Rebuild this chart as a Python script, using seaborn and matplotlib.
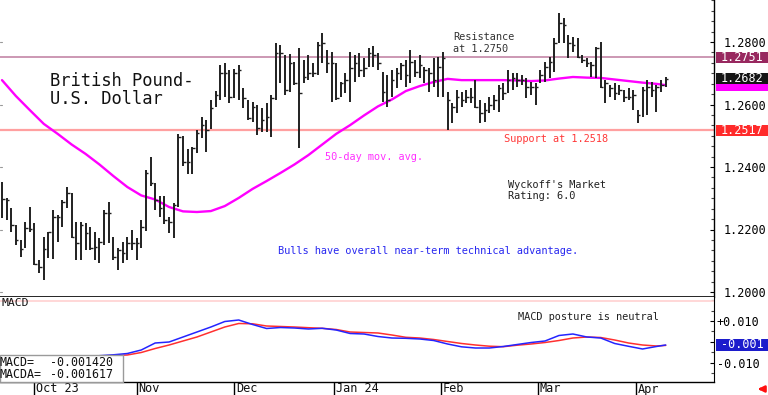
import numpy as np
import pandas as pd
import matplotlib
matplotlib.use("Agg")
import matplotlib.pyplot as plt
import matplotlib.transforms as mtransforms
from matplotlib.patches import Rectangle, FancyArrowPatch
from matplotlib.ticker import FixedLocator, MultipleLocator
import seaborn as sns

# ---------------- data (GBP/USD daily bars, Sep 21 2023 - Apr 9 2024) ----------------
highs = [1.2352, 1.2301, 1.2269, 1.2214, 1.2166, 1.2224, 1.2272, 1.2221, 1.2102, 1.2176,
         1.2192, 1.2262, 1.2246, 1.2294, 1.2336, 1.2317, 1.2224, 1.2224, 1.2221, 1.2208,
         1.2192, 1.2173, 1.2262, 1.2288, 1.2176, 1.2141, 1.2160, 1.2176, 1.2198, 1.2173,
         1.2230, 1.2390, 1.2432, 1.2349, 1.2307, 1.2307, 1.2240, 1.2285, 1.2506, 1.2499,
         1.2458, 1.2464, 1.2518, 1.2560, 1.2550, 1.2614, 1.2643, 1.2726, 1.2733, 1.2710,
         1.2714, 1.2726, 1.2653, 1.2614, 1.2608, 1.2598, 1.2589, 1.2605, 1.2630, 1.2797,
         1.2790, 1.2758, 1.2762, 1.2736, 1.2781, 1.2742, 1.2758, 1.2733, 1.2800, 1.2829,
         1.2774, 1.2768, 1.2733, 1.2672, 1.2701, 1.2768, 1.2758, 1.2765, 1.2749, 1.2781,
         1.2787, 1.2765, 1.2704, 1.2694, 1.2710, 1.2717, 1.2733, 1.2742, 1.2774, 1.2742,
         1.2758, 1.2720, 1.2717, 1.2749, 1.2752, 1.2768, 1.2640, 1.2605, 1.2646, 1.2640,
         1.2646, 1.2653, 1.2678, 1.2614, 1.2605, 1.2624, 1.2630, 1.2662, 1.2669, 1.2710,
         1.2701, 1.2701, 1.2694, 1.2685, 1.2672, 1.2669, 1.2710, 1.2736, 1.2752, 1.2813,
         1.2893, 1.2877, 1.2822, 1.2816, 1.2813, 1.2758, 1.2749, 1.2736, 1.2784, 1.2800,
         1.2678, 1.2662, 1.2669, 1.2662, 1.2646, 1.2653, 1.2646, 1.2582, 1.2656, 1.2678,
         1.2672, 1.2662, 1.2678, 1.2688]
lows = [1.2237, 1.2230, 1.2192, 1.2150, 1.2112, 1.2141, 1.2192, 1.2086, 1.2061, 1.2038,
        1.2109, 1.2106, 1.2160, 1.2208, 1.2269, 1.2173, 1.2102, 1.2102, 1.2134, 1.2134,
        1.2102, 1.2093, 1.2150, 1.2157, 1.2102, 1.2070, 1.2093, 1.2102, 1.2134, 1.2102,
        1.2141, 1.2195, 1.2339, 1.2262, 1.2240, 1.2218, 1.2189, 1.2173, 1.2272, 1.2403,
        1.2378, 1.2378, 1.2445, 1.2493, 1.2448, 1.2522, 1.2592, 1.2614, 1.2624, 1.2605,
        1.2621, 1.2614, 1.2589, 1.2550, 1.2544, 1.2502, 1.2512, 1.2512, 1.2496, 1.2614,
        1.2669, 1.2630, 1.2640, 1.2662, 1.2461, 1.2669, 1.2678, 1.2688, 1.2694, 1.2733,
        1.2701, 1.2608, 1.2614, 1.2624, 1.2637, 1.2608, 1.2672, 1.2688, 1.2688, 1.2720,
        1.2720, 1.2710, 1.2608, 1.2592, 1.2624, 1.2653, 1.2678, 1.2656, 1.2669, 1.2688,
        1.2685, 1.2669, 1.2640, 1.2656, 1.2624, 1.2624, 1.2518, 1.2541, 1.2573, 1.2592,
        1.2605, 1.2605, 1.2589, 1.2541, 1.2544, 1.2573, 1.2582, 1.2576, 1.2614, 1.2637,
        1.2646, 1.2656, 1.2662, 1.2621, 1.2630, 1.2598, 1.2669, 1.2672, 1.2685, 1.2704,
        1.2797, 1.2797, 1.2749, 1.2768, 1.2749, 1.2733, 1.2720, 1.2688, 1.2685, 1.2653,
        1.2605, 1.2624, 1.2614, 1.2630, 1.2608, 1.2614, 1.2582, 1.2541, 1.2560, 1.2566,
        1.2624, 1.2576, 1.2640, 1.2656]
closes = [1.2298, 1.2294, 1.2214, 1.2166, 1.2138, 1.2205, 1.2202, 1.2090, 1.2080, 1.2138,
          1.2192, 1.2240, 1.2240, 1.2288, 1.2317, 1.2176, 1.2157, 1.2214, 1.2189, 1.2141,
          1.2144, 1.2160, 1.2253, 1.2253, 1.2112, 1.2134, 1.2125, 1.2157, 1.2157, 1.2157,
          1.2208, 1.2381, 1.2349, 1.2294, 1.2269, 1.2230, 1.2224, 1.2278, 1.2496, 1.2416,
          1.2416, 1.2461, 1.2509, 1.2534, 1.2518, 1.2589, 1.2630, 1.2701, 1.2701, 1.2624,
          1.2701, 1.2710, 1.2621, 1.2557, 1.2592, 1.2525, 1.2550, 1.2560, 1.2621, 1.2765,
          1.2765, 1.2646, 1.2733, 1.2669, 1.2637, 1.2688, 1.2701, 1.2701, 1.2790, 1.2797,
          1.2733, 1.2733, 1.2621, 1.2669, 1.2678, 1.2717, 1.2733, 1.2710, 1.2717, 1.2765,
          1.2758, 1.2733, 1.2640, 1.2614, 1.2678, 1.2701, 1.2726, 1.2694, 1.2736, 1.2704,
          1.2726, 1.2710, 1.2701, 1.2678, 1.2720, 1.2749, 1.2614, 1.2592, 1.2624, 1.2614,
          1.2624, 1.2624, 1.2592, 1.2573, 1.2582, 1.2598, 1.2614, 1.2653, 1.2637, 1.2678,
          1.2685, 1.2678, 1.2678, 1.2656, 1.2656, 1.2656, 1.2694, 1.2720, 1.2736, 1.2797,
          1.2861, 1.2854, 1.2797, 1.2790, 1.2752, 1.2742, 1.2733, 1.2726, 1.2781, 1.2656,
          1.2669, 1.2653, 1.2637, 1.2646, 1.2624, 1.2624, 1.2630, 1.2566, 1.2646, 1.2656,
          1.2646, 1.2656, 1.2662, 1.2682]

ma_idx = list(range(0, 142, 3)) + [143]
ma_vals = [1.2678, 1.2627, 1.2582, 1.2538, 1.2506, 1.2472, 1.2442, 1.2408, 1.2371, 1.2336,
           1.2309, 1.2296, 1.2272, 1.2258, 1.2256, 1.2259, 1.2275, 1.2301, 1.2330, 1.2355,
           1.2381, 1.2408, 1.2438, 1.2472, 1.2506, 1.2534, 1.2565, 1.2594, 1.2616, 1.2643,
           1.2659, 1.2672, 1.2682, 1.2678, 1.2678, 1.2678, 1.2678, 1.2677, 1.2675, 1.2677,
           1.2683, 1.2688, 1.2686, 1.2685, 1.2680, 1.2675, 1.2670, 1.2666, 1.2662]

macd_idx = list(range(21, 142, 3)) + [143]
macd_vals = [-0.00652, -0.00610, -0.00548, -0.00381, -0.00048, 0.00000, 0.00238, 0.00476,
             0.00714, 0.00976, 0.01048, 0.00833, 0.00643, 0.00690, 0.00667, 0.00619,
             0.00652, 0.00571, 0.00405, 0.00381, 0.00262, 0.00190, 0.00176, 0.00143,
             0.00071, -0.00095, -0.00229, -0.00286, -0.00286, -0.00214, -0.00119, -0.00024,
             0.00048, 0.00310, 0.00381, 0.00238, 0.00190, -0.00071, -0.00205, -0.00333,
             -0.00214, -0.00142]
macda_vals = [-0.00667, -0.00643, -0.00619, -0.00500, -0.00310, -0.00143, 0.00048, 0.00238,
              0.00476, 0.00714, 0.00881, 0.00867, 0.00762, 0.00738, 0.00714, 0.00681,
              0.00652, 0.00595, 0.00476, 0.00452, 0.00429, 0.00333, 0.00224, 0.00190,
              0.00119, 0.00024, -0.00071, -0.00143, -0.00200, -0.00224, -0.00152, -0.00095,
              -0.00024, 0.00071, 0.00190, 0.00238, 0.00214, 0.00095, -0.00048, -0.00143,
              -0.00190, -0.00162]

month_labels = ["Oct 23", "Nov", "Dec", "Jan 24", "Feb", "Mar", "Apr"]
month_pos = [7, 29, 50, 71.5, 94.5, 115.5, 136.5]
price_ticks = [1.20, 1.22, 1.24, 1.26, 1.28]
macd_ticks = [-0.010, 0.0, 0.010]
macd_tick_labels = ["-0.010", "", "+0.010"]   # the 0.000 label sits under the value box
resistance = 1.2751
support = 1.2517
macd_last = -0.001420
macda_last = -0.001617
macd_guide = 0.0197

# ---------------- styling ----------------
sns.set_style("white")
MONO = ["DejaVu Sans Mono", "DejaVu Sans"]
plt.rcParams["font.family"] = MONO

W, H = 768, 395
fig = plt.figure(figsize=(W / 100, H / 100), dpi=100)
fig.patch.set_facecolor("white")


def fx(px):
    return px / W


def fy(py):
    return 1 - py / H


ax = fig.add_axes([0, fy(297), fx(714), 297 / H])
axm = fig.add_axes([0, fy(382), fx(714), (382 - 297) / H])

XMIN, XMAX = -0.43, 153.4
ax.set_xlim(XMIN, XMAX)
axm.set_xlim(XMIN, XMAX)
ax.set_ylim(1.1984, 1.29344)
axm.set_ylim(-0.01905, 0.02143)

# ---------------- price panel ----------------
ax.axhline(resistance, color="#C890AE", lw=1.3, zorder=1)
ax.axhline(support, color="#FFA0A0", lw=1.6, zorder=1)

x = np.arange(len(highs))
ax.vlines(x, lows, highs, color="#202020", lw=1.4, zorder=3)
ax.hlines(closes, x, x + 0.55, color="#202020", lw=1.0, zorder=3)

ma_df = pd.DataFrame({"idx": ma_idx, "ma": ma_vals})
sns.lineplot(data=ma_df, x="idx", y="ma", ax=ax, color="#FF00FF", lw=1.7, zorder=2)

for s in ["top", "left"]:
    ax.spines[s].set_visible(False)
ax.spines["right"].set_color("black")
ax.spines["bottom"].set_color("black")
ax.spines["bottom"].set_linewidth(1.2)
ax.spines["right"].set_linewidth(1.0)
ax.set_xticks([])
ax.set_xlabel("")
ax.set_ylabel("")
ax.yaxis.set_major_locator(FixedLocator(price_ticks))
ax.yaxis.set_minor_locator(MultipleLocator(0.02 / 6))
ax.set_yticklabels([f"{v:.4f}" for v in price_ticks])
ax.tick_params(axis="y", which="major", direction="in", length=3, width=0.8,
               right=True, left=False, labelright=True, labelleft=False,
               labelsize=8.5, pad=7, colors="black")
ax.tick_params(axis="y", which="minor", direction="in", length=2, width=0.8,
               right=True, left=False, colors="#444444")
# faint left-edge marks at the major levels
for v in price_ticks:
    ax.plot([XMIN, XMIN + 0.35], [v, v], color="#999999", lw=0.8, zorder=1,
            clip_on=False)

# right-side value boxes
tp = mtransforms.blended_transform_factory(fig.transFigure, ax.transData)
HALF_P = 5.6 / 3125


def price_box(val, bg, text=None, fg="white"):
    ax.add_patch(Rectangle((fx(716), val - HALF_P), fx(768) - fx(716), 2 * HALF_P,
                           transform=tp, facecolor=bg, edgecolor="none",
                           clip_on=False, zorder=5))
    if text is not None:
        ax.text(fx(742), val, text, transform=tp, ha="center", va="center",
                color=fg, fontsize=8.5, zorder=6, clip_on=False)


price_box(ma_vals[-1], "#FF00FF")                    # MA box, mostly hidden
price_box(closes[-1], "#151515", f"{closes[-1]:.4f}")
price_box(resistance, "#98285F", f"{resistance:.4f}")
price_box(support, "#FF2A2A", f"{support:.4f}")

# annotations
fig.text(fx(50), fy(81), "British Pound-", fontsize=12.3, color="#111111", va="center")
fig.text(fx(50), fy(99.5), "U.S. Dollar", fontsize=12.3, color="#111111", va="center")
fig.text(fx(453), fy(37.5), "Resistance", fontsize=7.4, color="#333333", va="center")
fig.text(fx(453), fy(48.5), "at 1.2750", fontsize=7.4, color="#333333", va="center")
fig.text(fx(504), fy(139), "Support at 1.2518", fontsize=7.4, color="#FF3838", va="center")
fig.text(fx(325), fy(157.5), "50-day mov. avg.", fontsize=7.4, color="#FF30FF", va="center")
fig.text(fx(508), fy(185), "Wyckoff's Market", fontsize=7.4, color="#222222", va="center")
fig.text(fx(508), fy(196), "Rating: 6.0", fontsize=7.4, color="#222222", va="center")
fig.text(fx(278), fy(251), "Bulls have overall near-term technical advantage.",
         fontsize=7.4, color="#2828F0", va="center")

# ---------------- MACD panel ----------------
axm.axhline(macd_guide, color="#FFD4D4", lw=1.3, zorder=1)
macd_df = pd.DataFrame({"idx": macd_idx, "macd": macd_vals, "macda": macda_vals})
sns.lineplot(data=macd_df, x="idx", y="macda", ax=axm, color="#FF3030", lw=1.1, zorder=2)
sns.lineplot(data=macd_df, x="idx", y="macd", ax=axm, color="#2424FF", lw=1.1, zorder=3)

for s in ["top", "left"]:
    axm.spines[s].set_visible(False)
axm.spines["right"].set_color("black")
axm.spines["bottom"].set_color("black")
axm.spines["bottom"].set_linewidth(1.0)
axm.set_xlabel("")
axm.set_ylabel("")
axm.yaxis.set_major_locator(FixedLocator(macd_ticks))
axm.yaxis.set_minor_locator(MultipleLocator(0.005))
axm.set_yticklabels(macd_tick_labels)
axm.yaxis.tick_right()
axm.tick_params(axis="y", which="major", direction="in", length=3, width=0.8,
                labelsize=8.5, pad=2, colors="black")
axm.tick_params(axis="y", which="minor", direction="in", length=2, width=0.8,
                right=True, left=False, colors="#444444")
axm.set_xticks(month_pos)
axm.set_xticklabels([""] * len(month_pos))
axm.tick_params(axis="x", which="major", direction="out", length=10, width=1.0,
                colors="black", bottom=True)

tm = mtransforms.blended_transform_factory(axm.transData, fig.transFigure)
for pos, lab in zip(month_pos, month_labels):
    axm.text(pos + 0.4, fy(389), lab, transform=tm, ha="left", va="center",
             fontsize=8.6, color="#111111", clip_on=False)

# MACD current value box
tmm = mtransforms.blended_transform_factory(fig.transFigure, axm.transData)
half_m = 6.0 / 2100
axm.add_patch(Rectangle((fx(716), macd_last - half_m), fx(768) - fx(716), 2 * half_m,
                        transform=tmm, facecolor="#1C1CCC", edgecolor="none",
                        clip_on=False, zorder=5))
axm.text(fx(742), macd_last, f"{macd_last:.3f}", transform=tmm, ha="center",
         va="center", color="white", fontsize=8.5, zorder=6, clip_on=False)

fig.text(fx(1), fy(303.5), "MACD", fontsize=8.2, color="#111111", va="center")
fig.text(fx(518), fy(317), "MACD posture is neutral", fontsize=7.4, color="#222222",
         va="center")

# readout box
fig.add_artist(Rectangle((0, fy(382)), fx(123), (382 - 355) / H,
                         transform=fig.transFigure, facecolor="white",
                         edgecolor="#9A9A9A", lw=1.0, zorder=10))
fig.text(fx(0), fy(362), "MACD=", fontsize=8.4, color="#111111", va="center", zorder=11)
fig.text(fx(50), fy(362), f"{macd_last:.6f}", fontsize=8.4, color="#111111",
         va="center", zorder=11)
fig.text(fx(0), fy(375), "MACDA=", fontsize=8.4, color="#111111", va="center", zorder=11)
fig.text(fx(50), fy(375), f"{macda_last:.6f}", fontsize=8.4, color="#111111",
         va="center", zorder=11)

# small red arrow bottom right
fig.add_artist(FancyArrowPatch(
    (fx(765), fy(389)), (fx(755), fy(389)), transform=fig.transFigure,
    arrowstyle="-|>", mutation_scale=9, color="#FF1010", lw=1.8))

fig.savefig("out.png", dpi=100, facecolor="white")
